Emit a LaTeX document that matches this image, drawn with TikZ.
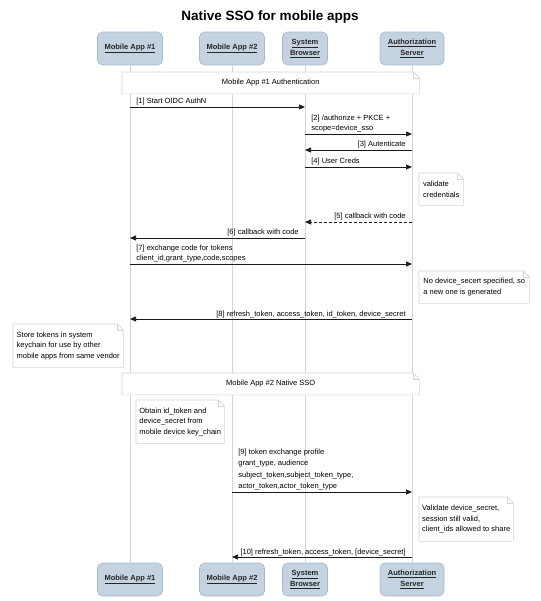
\documentclass[tikz,border=0pt]{standalone}
\usepackage{fontspec}
\setmainfont{Liberation Sans}
\usetikzlibrary{arrows.meta}
\definecolor{boxfill}{RGB}{197,211,224}
\definecolor{boxdraw}{RGB}{165,186,206}
\definecolor{lifegray}{RGB}{212,212,212}
\definecolor{notegray}{RGB}{212,212,212}
\definecolor{msgcol}{RGB}{25,25,25}
\tikzset{
  part/.style={draw=boxdraw, fill=boxfill, rounded corners=5pt, minimum height=33pt,
    inner sep=2pt, align=center, line width=0.6pt,
    font=\fontsize{7.5}{11}\selectfont\bfseries, text=black!85},
  life/.style={draw=lifegray, line width=0.8pt},
  notetext/.style={fill=white, anchor=north west, inner sep=0pt, align=left,
    font=\fontsize{7.5}{10.5}\selectfont},
  noteline/.style={draw=notegray, line width=0.6pt},
  msg/.style={draw=msgcol, line width=0.7pt, -{Triangle[length=6pt,width=5pt]}},
  dmsg/.style={msg, dash pattern=on 3pt off 2pt},
  lbl/.style={font=\fontsize{7.5}{10.5}\selectfont, inner sep=0pt, align=left},
}
\newcommand\seqnote[6]{%
  \node[notetext, minimum width=#4pt, minimum height=#5pt] (#1) at (#2,#3) {#6};
  \draw[noteline] (#1.north west) -- ([xshift=-6pt]#1.north east) -- ([yshift=-6pt]#1.north east)
    -- (#1.south east) -- (#1.south west) -- cycle;
  \draw[noteline] ([xshift=-6pt]#1.north east) |- ([yshift=-6pt]#1.north east);
}
\begin{document}
\begin{tikzpicture}[x=1pt,y=-1pt]
\useasboundingbox (0,0) rectangle (540,601);
\fill[white] (0,0) rectangle (540,601);
\node[font=\fontsize{13.5}{16}\selectfont\bfseries] (title) at (270,17) {Native SSO for mobile apps};

% participants
\node[part, minimum width=65pt] (h1) at (130,48.5) {\underline{Mobile App \#1}};
\node[part, minimum width=65pt] (h2) at (232,48.5) {\underline{Mobile App \#2}};
\node[part, minimum width=45pt] (h3) at (305,48.5) {\underline{System}\\\underline{Browser}};
\node[part, minimum width=64pt] (h4) at (412,48.5) {\underline{Authorization}\\\underline{Server}};
\node[part, minimum width=65pt] (f1) at (130,579.5) {\underline{Mobile App \#1}};
\node[part, minimum width=65pt] (f2) at (232,579.5) {\underline{Mobile App \#2}};
\node[part, minimum width=45pt] (f3) at (305,579.5) {\underline{System}\\\underline{Browser}};
\node[part, minimum width=64pt] (f4) at (412,579.5) {\underline{Authorization}\\\underline{Server}};

% lifelines
\draw[life] (h1.south) -- (f1.north);
\draw[life] (h2.south) -- (f2.north);
\draw[life] (h3.south) -- (f3.north);
\draw[life] (h4.south) -- (f4.north);

% groups
\seqnote{g1}{122}{72}{297}{21.5}{Mobile App \#1 Authentication}
\seqnote{g2}{122}{373}{297}{21.5}{Mobile App \#2 Native SSO}

% notes
\seqnote{n1}{419}{173}{44}{32}{validate\\credentials}
\seqnote{n2}{419}{271}{110}{32}{No device\_secert specified, so\\a new one is generated}
\seqnote{n3}{13}{324}{110}{43}{Store tokens in system\\keychain for use by other\\mobile apps from same vendor}
\seqnote{n4}{136}{400}{88}{43}{Obtain id\_token and\\device\_secret from\\mobile device key\_chain}
\seqnote{n5}{419}{497}{94}{44}{Validate device\_secret,\\session still valid,\\client\_ids allowed to share}

% messages
\draw[msg] (h1 |- 0,107) -- (h3 |- 0,107)
  node[pos=0, lbl, anchor=base west, xshift=6pt, yshift=3pt] (l1) {[1] Start OIDC AuthN};
\draw[msg] (h3 |- 0,134) -- (h4 |- 0,134)
  node[pos=0, lbl, anchor=south west, xshift=6pt, yshift=1.5pt] (l2) {[2] /authorize + PKCE +\\scope=device\_sso};
\draw[msg] (h4 |- 0,150) -- (h3 |- 0,150)
  node[pos=0, lbl, anchor=base east, xshift=-6pt, yshift=3pt] (l3) {[3] Autenticate};
\draw[msg] (h3 |- 0,167) -- (h4 |- 0,167)
  node[pos=0, lbl, anchor=base west, xshift=6pt, yshift=3pt] (l4) {[4] User Creds};
\draw[dmsg] (h4 |- 0,222) -- (h3 |- 0,222)
  node[pos=0, lbl, anchor=base east, xshift=-6pt, yshift=3pt] (l5) {[5] callback with code};
\draw[msg] (h3 |- 0,238) -- (h1 |- 0,238)
  node[pos=0, lbl, anchor=base east, xshift=-6pt, yshift=3pt] (l6) {[6] callback with code};
\draw[msg] (h1 |- 0,264) -- (h4 |- 0,264)
  node[pos=0, lbl, anchor=south west, xshift=6pt, yshift=1.5pt] (l7) {[7] exchange code for tokens\\client\_id,grant\_type,code,scopes};
\draw[msg] (h4 |- 0,319) -- (h1 |- 0,319)
  node[pos=0, lbl, anchor=base east, xshift=-6pt, yshift=3pt] (l8) {[8] refresh\_token, access\_token, id\_token, device\_secret};
\draw[msg] (h2 |- 0,492) -- (h4 |- 0,492)
  node[pos=0, lbl, anchor=south west, xshift=6pt, yshift=1.5pt, font=\fontsize{7.5}{11.3}\selectfont] (l9) {[9] token exchange profile\\grant\_type, audience\\subject\_token,subject\_token\_type,\\actor\_token,actor\_token\_type};
\draw[msg] (h4 |- 0,557) -- (h2 |- 0,557)
  node[pos=0, lbl, anchor=base east, xshift=-6pt, yshift=3pt] (l10) {[10] refresh\_token, access\_token, [device\_secret]};
\end{tikzpicture}
\end{document}
